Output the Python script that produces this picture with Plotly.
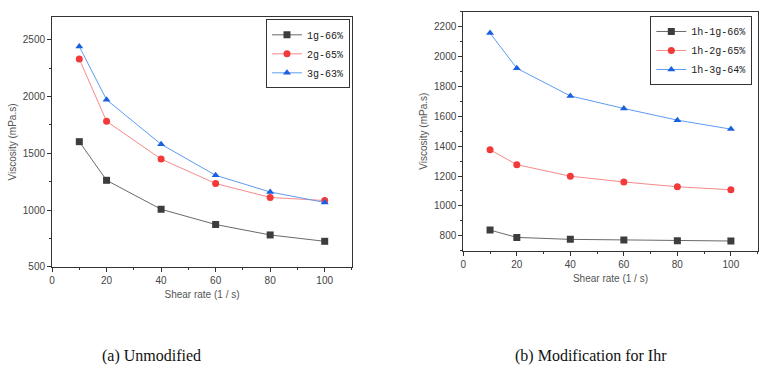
import plotly.graph_objects as go

shear = [10, 20, 40, 60, 80, 100]

# (a) Unmodified
a_names = ["1g-66%", "2g-65%", "3g-63%"]
a_1g = [1603, 1263, 1008, 874, 782, 726]
a_2g = [2330, 1782, 1450, 1235, 1112, 1085]
a_3g = [2440, 1972, 1580, 1307, 1160, 1068]

# (b) Modification for 1hr
b_names = ["1h-1g-66%", "1h-2g-65%", "1h-3g-64%"]
b_1g = [838, 789, 776, 771, 767, 765]
b_2g = [1376, 1276, 1199, 1160, 1128, 1108]
b_3g = [2157, 1921, 1736, 1652, 1574, 1514]

captions = ["(a) Unmodified", "(b) Modification for Ihr"]

marker_cols = ["#3d3d3d", "#f23a3a", "#1a5fe0"]
line_cols = ["#6a6a6a", "#f78a8a", "#5d9cf2"]
symbols = ["square", "circle", "triangle-up"]

fig = go.Figure()

for i, (nm, ys) in enumerate(zip(a_names, [a_1g, a_2g, a_3g])):
    fig.add_trace(go.Scatter(
        x=shear, y=ys, name=nm, mode="lines+markers",
        line=dict(color=line_cols[i], width=1),
        marker=dict(color=marker_cols[i], symbol=symbols[i], size=7),
        xaxis="x", yaxis="y", legend="legend"))

for i, (nm, ys) in enumerate(zip(b_names, [b_1g, b_2g, b_3g])):
    fig.add_trace(go.Scatter(
        x=shear, y=ys, name=nm, mode="lines+markers",
        line=dict(color=line_cols[i], width=1),
        marker=dict(color=marker_cols[i], symbol=symbols[i], size=7),
        xaxis="x2", yaxis="y2", legend="legend2"))

tickfont = dict(family="Arial, Liberation Sans, sans-serif", size=10, color="#444")
titlefont = dict(family="Arial, Liberation Sans, sans-serif", size=10, color="#555")

def xax(domain, anchor):
    return dict(domain=domain, anchor=anchor, range=[0, 110], tickvals=[0, 20, 40, 60, 80, 100],
                showgrid=False, zeroline=False, showline=True, linecolor="#333", linewidth=1,
                mirror=True, ticks="outside", ticklen=4, tickcolor="#333",
                minor=dict(ticks="outside", ticklen=2, dtick=10, tickcolor="#333"),
                tickfont=tickfont, automargin=False,
                title=dict(text="Shear rate (1 / s)", font=titlefont, standoff=6))

def yax(domain, anchor, rng, dtick):
    return dict(domain=domain, anchor=anchor, range=rng, dtick=dtick,
                showgrid=False, zeroline=False, showline=True, linecolor="#333", linewidth=1,
                mirror=True, ticks="outside", ticklen=4, tickcolor="#333",
                minor=dict(ticks="outside", ticklen=2, dtick=dtick / 2, tickcolor="#333"),
                tickfont=tickfont, automargin=False,
                title=dict(text="Viscosity (mPa.s)", font=titlefont, standoff=4))

legfont = dict(family="Liberation Mono, DejaVu Sans Mono, monospace", size=10, color="#222")

capfont = dict(family="Liberation Serif, Times New Roman, serif", size=16, color="#111")

fig.update_layout(
    width=763, height=370,
    margin=dict(l=0, r=0, t=0, b=0, autoexpand=False),
    paper_bgcolor="white", plot_bgcolor="white",
    showlegend=True,
    xaxis=xax([0.0682, 0.4613], "y"),
    yaxis=yax([0.2784, 0.954], "x", [500, 2700], 500),
    xaxis2=xax([0.6072, 0.993], "y2"),
    yaxis2=yax([0.3224, 0.9684], "x2", [700, 2300], 200),
    legend=dict(x=0.4587, y=0.9478, xanchor="right", yanchor="top",
                bgcolor="white", bordercolor="#333", borderwidth=1,
                font=legfont, tracegroupgap=0, itemwidth=30),
    legend2=dict(x=0.986, y=0.9568, xanchor="right", yanchor="top",
                 bgcolor="white", bordercolor="#333", borderwidth=1,
                 font=legfont, tracegroupgap=0, itemwidth=30),
    annotations=[
        dict(text=captions[0], x=0.198, y=0.038, xref="paper", yref="paper",
             xanchor="center", yanchor="middle", showarrow=False, font=capfont),
        dict(text=captions[1], x=0.775, y=0.038, xref="paper", yref="paper",
             xanchor="center", yanchor="middle", showarrow=False, font=capfont),
    ],
)

fig.write_html("out.html", config={"displayModeBar": False},
               post_script="document.body.style.margin='0';document.body.style.overflow='hidden';")
